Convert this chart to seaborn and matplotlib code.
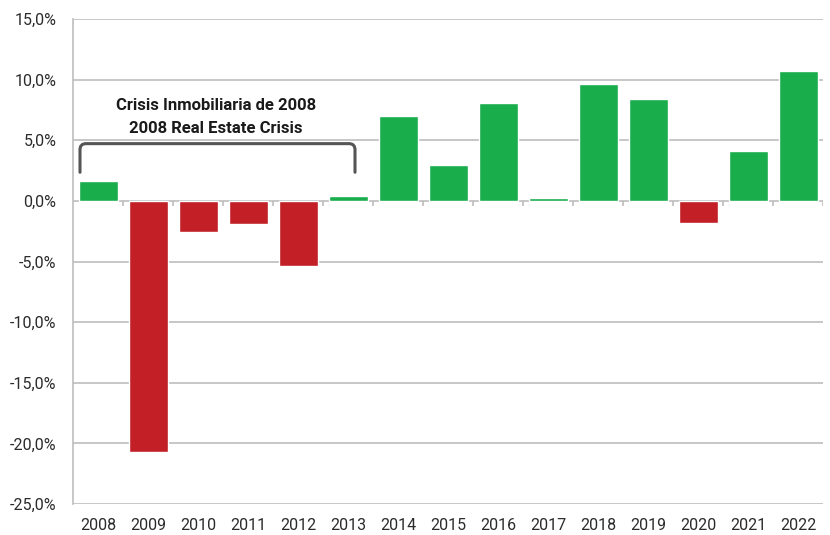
import matplotlib
matplotlib.use("Agg")
import matplotlib.pyplot as plt
import seaborn as sns
import pandas as pd
import numpy as np
from matplotlib.path import Path
from matplotlib.patches import PathPatch
from matplotlib.ticker import FuncFormatter, MultipleLocator

years = ["2008", "2009", "2010", "2011", "2012", "2013", "2014", "2015",
         "2016", "2017", "2018", "2019", "2020", "2021", "2022"]
values = [1.65, -20.7, -2.6, -1.9, -5.4, 0.4, 7.0, 3.0,
          8.1, 0.2, 9.6, 8.4, -1.8, 4.15, 10.7]
annot_lines = ["Crisis Inmobiliaria de 2008", "2008 Real Estate Crisis"]

GREEN = "#19ad4b"
RED = "#c21f27"
GRID = "#bdbdbd"
TXT = "#2b2b2b"

df = pd.DataFrame({"year": years, "value": values})
df["sign"] = np.where(df["value"] >= 0, "pos", "neg")

sns.set_theme(style="white")
plt.rcParams["font.family"] = ["Roboto", "DejaVu Sans"]

fig = plt.figure(figsize=(8.30, 5.35), dpi=100)
ax = fig.add_axes([73/830, 1-504/535, (823-73)/830, (504-19)/535])

sns.barplot(data=df, x="year", y="value", hue="sign", order=years,
            palette={"pos": GREEN, "neg": RED}, dodge=False, legend=False,
            width=0.78, saturation=1, ax=ax, zorder=3)

ax.set_ylim(-25, 15)
ax.set_xlim(-0.5, len(years) - 0.5)
ax.yaxis.set_major_locator(MultipleLocator(5))
ax.yaxis.set_major_formatter(FuncFormatter(lambda v, p: f"{v:.1f}%".replace(".", ",")))
ax.grid(axis="y", color=GRID, linewidth=1.2, zorder=0)
ax.set_axisbelow(True)
for s in ["top", "right", "bottom"]:
    ax.spines[s].set_visible(False)
ax.spines["left"].set_color(GRID)
ax.spines["left"].set_linewidth(1.2)
ax.set_xlabel("")
ax.set_ylabel("")
ax.tick_params(axis="y", length=4, color=GRID, width=1.2, pad=8, labelsize=11.5, labelcolor=TXT)
ax.tick_params(axis="x", length=0, pad=10, labelsize=11.5, labelcolor=TXT)

# category-boundary ticks on the zero line
bounds = np.arange(0.5, len(years), 1.0)
ax.vlines(bounds, -0.45, 0, color=GRID, linewidth=1.2, zorder=2)

# bracket
x0, x1 = -0.36, 5.14
ytop, ybot = 4.72, 2.36
r = 0.5
verts = [(x0, ybot), (x0, ytop - r), (x0, ytop), (x0 + 0.12, ytop),
         (x1 - 0.12, ytop), (x1, ytop), (x1, ytop - r), (x1, ybot)]
codes = [Path.MOVETO, Path.LINETO, Path.CURVE3, Path.CURVE3,
         Path.LINETO, Path.CURVE3, Path.CURVE3, Path.LINETO]
ax.add_patch(PathPatch(Path(verts, codes), fill=False, edgecolor="#555555",
                       linewidth=2.2, capstyle="round", zorder=4))

ax.text(2.36, 7.9, annot_lines[0], ha="center", va="center", fontsize=12,
        fontweight="bold", color="#1a1a1a", zorder=5)
ax.text(2.36, 6.0, annot_lines[1], ha="center", va="center", fontsize=12,
        fontweight="bold", color="#1a1a1a", zorder=5)

fig.savefig("out.png", dpi=100, facecolor="white")
